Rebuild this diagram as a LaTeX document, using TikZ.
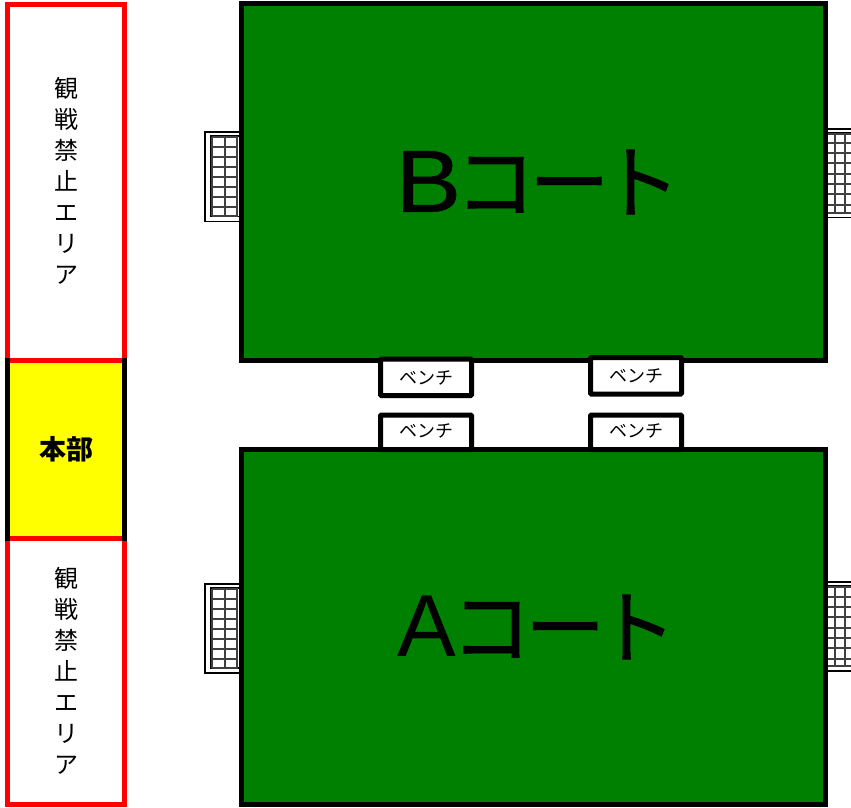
\documentclass[tikz,border=0pt]{standalone}
\usepackage{fontspec}
\setmainfont{Liberation Sans}
\newfontfamily\cjk{Noto Sans CJK JP}
\newfontfamily\cjkheavy[FakeBold=1.2]{Noto Sans CJK JP}
\newfontfamily\widelatin[FakeStretch=1.12,FakeBold=0.6]{Liberation Sans}
\definecolor{courtgreen}{RGB}{0,128,0}
\definecolor{hqyellow}{RGB}{255,255,0}
\definecolor{areared}{RGB}{255,0,0}
\tikzset{
	court/.style={draw=black, fill=courtgreen, line width=5pt},
	area/.style={draw=areared, fill=white, line width=5pt},
	bench/.style={draw=black, fill=white, line width=5pt, rounded corners=1pt},
	goalline/.style={draw=black, fill=white, line width=1.2pt},
	netline/.style={draw=black!75, line width=2.6pt},
	courtlabel/.style={font=\fontsize{82}{82}\selectfont},
	benchlabel/.style={font=\fontsize{18}{18}\selectfont\cjk},
	arealabel/.style={align=center, font=\fontsize{24}{31}\selectfont\cjk},
}
% goal: x of frame far side, x of mouth, top and bottom of frame, x of net side
\def\goalframe(#1,#2,#3,#4,#5){
	\draw[goalline] (#2, #3) -- (#1, #3) -- (#1, #4) -- (#2, #4);
	\draw[goalline] (#2, #3+4) -- (#5, #3+4) -- (#5, #4-5) -- (#2, #4-5);
}
% katakana of the court names, set tighter than the font's own width
\def\courtword{\cjkheavy\fontsize{80}{80}\selectfont コ\kern-6ptー\kern-9ptト}
\begin{document}
\begin{tikzpicture}[x=1pt, y=-1pt]
		%%%%% START %%%%%
		\clip (0, 0) rectangle (851, 807);
		\fill[white] (0, 0) rectangle (851, 807);
		
		% goals B
		\goalframe(205, 240, 132, 221.5, 210.5);
		\foreach \gy in {137, 147, 157, 167, 177, 187, 197, 207, 216}
			\draw[netline] (212, \gy) -- (238, \gy);
		\foreach \gx in {212, 225, 237}
			\draw[netline] (\gx, 137) -- (\gx, 216);
		\goalframe(861, 826, 129, 217.5, 856);
		\foreach \gy in {134, 143, 153, 163, 174, 184, 194, 205, 213}
			\draw[netline] (826, \gy) -- (856, \gy);
		\foreach \gx in {835, 845}
			\draw[netline] (\gx, 134) -- (\gx, 213);
		
		% goals A
		\goalframe(205, 240, 584, 673, 210.5);
		\foreach \gy in {589, 599, 609, 619, 629, 639, 649, 659, 668}
			\draw[netline] (212, \gy) -- (238, \gy);
		\foreach \gx in {212, 225, 237}
			\draw[netline] (\gx, 589) -- (\gx, 668);
		\goalframe(861, 826, 582, 671, 856);
		\foreach \gy in {587, 597, 607, 617, 628, 638, 648, 659, 666}
			\draw[netline] (826, \gy) -- (856, \gy);
		\foreach \gx in {835, 845}
			\draw[netline] (\gx, 587) -- (\gx, 666);
		
		% courts
		\draw[court] (241.5, 3.5) rectangle (825.5, 360);
		\draw[court] (241.5, 449.5) rectangle (825.5, 804.5);
		
		% benches
		\draw[bench] (380.5, 359) rectangle (471.5, 395.5);
		\draw[bench] (590.5, 357.5) rectangle (681.5, 394);
		\draw[bench] (380.5, 415) rectangle (471.5, 449.5);
		\draw[bench] (590.5, 415) rectangle (681.5, 449.5);
		
		\node[courtlabel, anchor=west] (courtB) at (392, 182) {\widelatin\fontsize{88}{88}\selectfont B\kern-6pt\courtword};
		\node[courtlabel, anchor=west] (courtA) at (394, 627) {\fontsize{88}{88}\selectfont A\kern-5pt\courtword};
		
		\node[benchlabel] (benchBleft) at (426, 378) {ベンチ};
		\node[benchlabel] (benchBright) at (636, 376) {ベンチ};
		\node[benchlabel] (benchAleft) at (426, 431) {ベンチ};
		\node[benchlabel] (benchAright) at (636, 431) {ベンチ};
		
		% left strip
		\draw[area] (7.5, 4) rectangle (124.5, 360.5);
		\draw[area] (7.5, 538.5) rectangle (124.5, 804.5);
		\fill[hqyellow] (7.5, 360.5) rectangle (124.5, 538.5);
		\draw[black, line width=5pt] (7.5, 358) -- (7.5, 541);
		\draw[black, line width=5pt] (124.5, 358) -- (124.5, 541);
		\draw[areared, line width=5pt] (10, 360.5) -- (122, 360.5);
		\draw[areared, line width=5pt] (10, 538.5) -- (122, 538.5);
		
		\node[arealabel] (noviewTop) at (66, 181) {観\\戦\\禁\\止\\エ\\リ\\ア};
		\node[arealabel] (noviewBottom) at (66, 671) {観\\戦\\禁\\止\\エ\\リ\\ア};
		\node (honbu) at (66, 449) {\fontsize{27}{27}\selectfont\cjk\bfseries 本部};
		%%%%% END %%%%%
	\end{tikzpicture}
\end{document}
